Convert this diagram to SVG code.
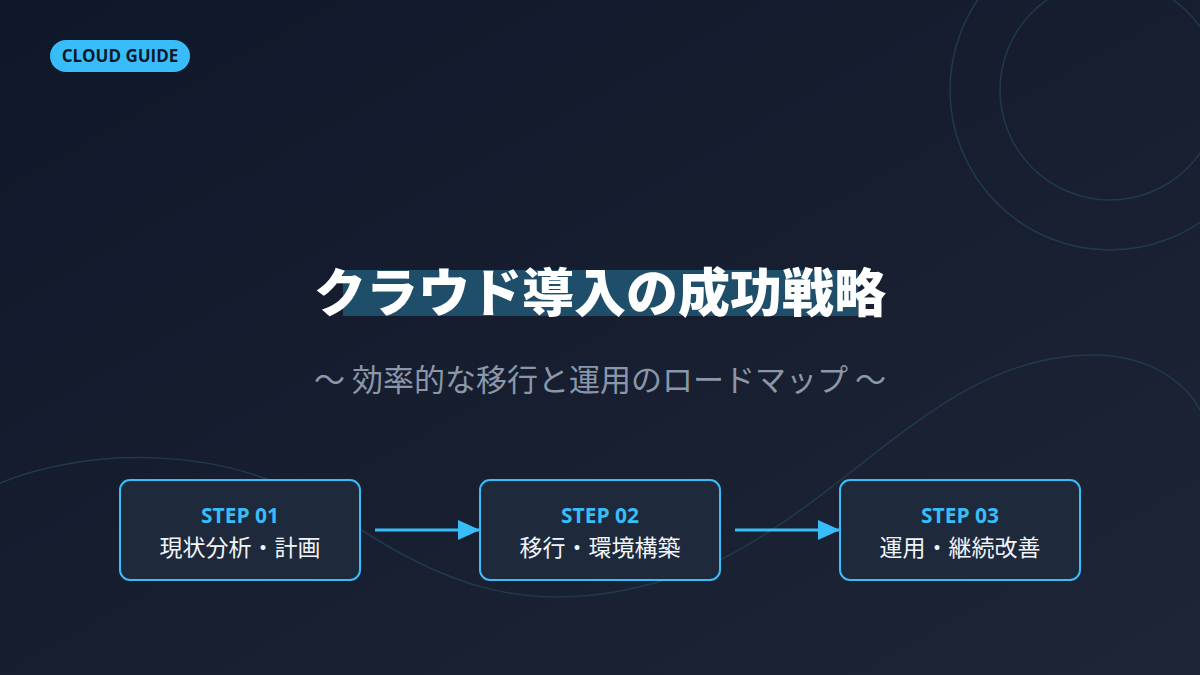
<svg xmlns="http://www.w3.org/2000/svg" width="1200" height="675" viewBox="0 0 1200 675">
<defs>
<linearGradient id="bg" x1="0" y1="0" x2="1" y2="1"><stop offset="0" stop-color="#0f172a"/><stop offset="1" stop-color="#1e2536"/></linearGradient>
<marker id="ah" markerWidth="22" markerHeight="20" refX="22" refY="10" orient="auto" markerUnits="userSpaceOnUse" viewBox="0 0 22 20"><path d="M0,0 L22,10 L0,20 Z" fill="#38bdf8"/></marker>
<style>
.box{fill:#1e293b;stroke:#38bdf8;stroke-width:2}
.step{font-family:"Open Sans","Noto Sans",sans-serif;font-weight:700;font-size:21px;fill:#38bdf8;text-anchor:middle}
.lbl{font-family:"Noto Sans CJK JP",sans-serif;font-size:23px;fill:#f1f5f9;text-anchor:middle}
.con{stroke:#38bdf8;stroke-width:3;fill:none}
</style>
</defs>
<rect width="1200" height="675" fill="url(#bg)"/>
<g fill="none" stroke="#1f3a4d" stroke-width="1.5">
<circle cx="1110" cy="90" r="160"/>
<circle cx="1110" cy="90" r="110"/>
<path d="M0,483 C80,450 220,440 330,510 C430,575 530,640 720,560 C860,490 950,350 1100,355 C1160,358 1190,390 1200,410"/>
</g>
<g id="badge"><rect x="50" y="40" width="140" height="32" rx="16" fill="#38bdf8"/><text x="120" y="62" text-anchor="middle" font-family="'Open Sans',sans-serif" font-weight="700" font-size="17" fill="#0f172a">CLOUD GUIDE</text></g>
<g id="title"><rect x="343" y="270" width="515" height="46" fill="#1f4e6b"/><text x="600" y="312" text-anchor="middle" font-family="'Noto Sans CJK JP',sans-serif" font-weight="900" font-size="52" fill="#ffffff">クラウド導入の成功戦略</text></g>
<text x="600" y="391" text-anchor="middle" font-family="'Noto Sans CJK JP',sans-serif" font-size="31" fill="#8b97a8">〜 効率的な移行と運用のロードマップ 〜</text>
<g id="connectors">
<line class="con" x1="375" y1="530" x2="480" y2="530" marker-end="url(#ah)"/>
<line class="con" x1="735" y1="530" x2="840" y2="530" marker-end="url(#ah)"/>
</g>
<g id="step1"><rect class="box" x="120" y="480" width="240" height="100" rx="10"/><text class="step" x="240" y="523">STEP 01</text><text class="lbl" x="240" y="556">現状分析・計画</text></g>
<g id="step2"><rect class="box" x="480" y="480" width="240" height="100" rx="10"/><text class="step" x="600" y="523">STEP 02</text><text class="lbl" x="600" y="556">移行・環境構築</text></g>
<g id="step3"><rect class="box" x="840" y="480" width="240" height="100" rx="10"/><text class="step" x="960" y="523">STEP 03</text><text class="lbl" x="960" y="556">運用・継続改善</text></g>
</svg>
